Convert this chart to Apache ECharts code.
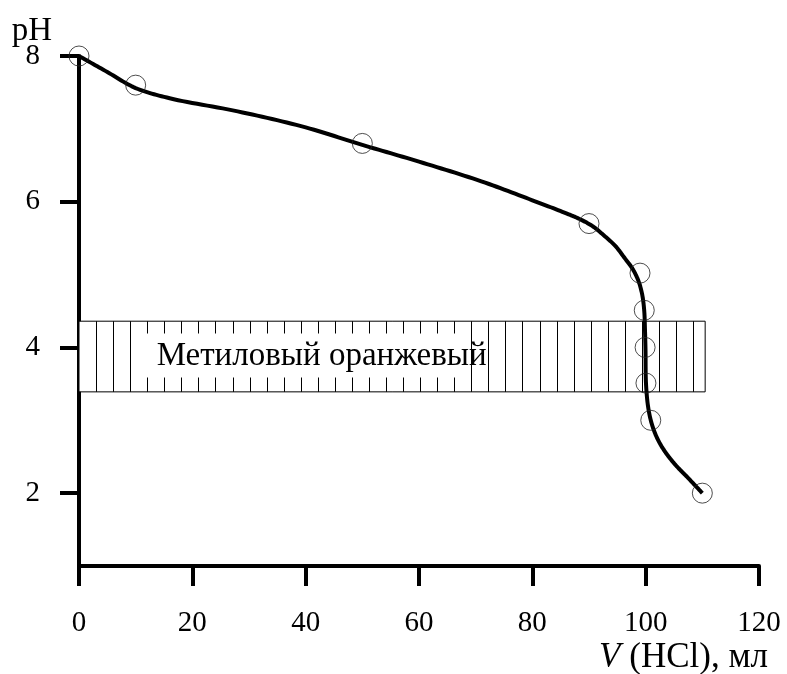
<!DOCTYPE html>
<html><head><meta charset="utf-8">
<script src="https://cdn.jsdelivr.net/npm/echarts@6/dist/echarts.min.js"></script>
<style>html,body{margin:0;padding:0;background:#fff}#c{width:787px;height:674px}</style>
</head><body><div id="c"></div>
<script>
// Measured titration points: V(HCl), ml and pH
const volume = [0, 10, 50, 90, 99, 99.75, 99.9, 100.05, 100.9, 110];
const pH = [8, 7.6, 6.8, 5.7, 5.02, 4.51, 4.0, 3.51, 3.0, 2.0];
// Smooth titration curve
const curveVolume = [0, 5, 10, 16, 28, 40, 50, 60, 71, 80, 86, 88.41, 90.71, 92.74, 94.68, 96.26, 97.68, 98.74, 99.40, 99.74, 99.88, 99.97, 100.06, 100.46, 101.12, 102.18, 103.59, 105.35, 107.47, 110];
const curvePH = [8.0, 7.78, 7.56, 7.42, 7.24, 7.02, 6.78, 6.55, 6.28, 6.02, 5.84, 5.76, 5.66, 5.53, 5.39, 5.23, 5.08, 4.91, 4.72, 4.51, 4.24, 3.97, 3.50, 3.17, 2.94, 2.73, 2.55, 2.38, 2.21, 2.0];
// Indicator transition band (methyl orange)
const bandVolume = [0, 110.5];
const bandPH = [3.39, 4.36];
const bandLabel = 'Метиловый оранжевый';
const bandLabelVolume = 13.7;
// Axis ticks and titles
const xTicks = [0, 20, 40, 60, 80, 100, 120];
const yTicks = [2, 4, 6, 8];
const yTitle = 'pH';
const xTitleItalic = 'V';
const xTitleRest = ' (HCl), мл';

const FONT = '"Liberation Serif", "DejaVu Serif", serif';
const hatchStep = 3.01;

// centripetal Catmull-Rom through pixel points
function splinePoints(pts, n) {
  const out = [];
  const len = pts.length;
  const tj = (a, b) => Math.max(Math.pow(Math.hypot(b[0] - a[0], b[1] - a[1]), 0.5), 1e-4);
  const lerp = (a, b, wa, wb) => [a[0] * wa + b[0] * wb, a[1] * wa + b[1] * wb];
  for (let i = 0; i < len - 1; i++) {
    const P1 = pts[i], P2 = pts[i + 1];
    const P0 = i > 0 ? pts[i - 1] : [2 * P1[0] - P2[0], 2 * P1[1] - P2[1]];
    const P3 = i < len - 2 ? pts[i + 2] : [2 * P2[0] - P1[0], 2 * P2[1] - P1[1]];
    const t0 = 0, t1 = t0 + tj(P0, P1), t2 = t1 + tj(P1, P2), t3 = t2 + tj(P2, P3);
    for (let k = (i === 0 ? 0 : 1); k <= n; k++) {
      const t = t1 + (t2 - t1) * k / n;
      const A1 = lerp(P0, P1, (t1 - t) / (t1 - t0), (t - t0) / (t1 - t0));
      const A2 = lerp(P1, P2, (t2 - t) / (t2 - t1), (t - t1) / (t2 - t1));
      const A3 = lerp(P2, P3, (t3 - t) / (t3 - t2), (t - t2) / (t3 - t2));
      const B1 = lerp(A1, A2, (t2 - t) / (t2 - t0), (t - t0) / (t2 - t0));
      const B2 = lerp(A2, A3, (t3 - t) / (t3 - t1), (t - t1) / (t3 - t1));
      out.push(lerp(B1, B2, (t2 - t) / (t2 - t1), (t - t1) / (t2 - t1)));
    }
  }
  return out;
}

const chart = echarts.init(document.getElementById('c'), null, {renderer: 'canvas'});
chart.setOption({
  animation: false,
  backgroundColor: '#fff',
  grid: {left: 79, right: 28, top: 56, bottom: 108, containLabel: false, outerBoundsMode: 'none'},
  graphic: [
    {
      type: 'text', right: 19, top: 640, z: 10,
      style: {
        text: '{i|' + xTitleItalic + '}{n|' + xTitleRest + '}',
        rich: {
          i: {font: 'italic 35px ' + FONT, fill: '#000'},
          n: {font: '35px ' + FONT, fill: '#000'}
        }
      }
    }
  ],
  xAxis: {
    type: 'value', min: xTicks[0], max: xTicks[xTicks.length - 1], interval: 20,
    axisLine: {show: true, onZero: false, lineStyle: {color: '#000', width: 4}},
    axisTick: {show: true, inside: false, length: 20, lineStyle: {color: '#000', width: 4}},
    axisLabel: {fontFamily: FONT, fontSize: 29, color: '#000', margin: 43},
    splitLine: {show: false}
  },
  yAxis: {
    type: 'value', min: 1, max: 8,
    name: yTitle, nameLocation: 'end', nameGap: 8, nameMoveOverlap: false,
    nameTextStyle: {fontFamily: FONT, fontSize: 33, color: '#000', align: 'right', verticalAlign: 'bottom', padding: [0, 27, 0, 0]},
    axisLine: {show: true, onZero: false, lineStyle: {color: '#000', width: 4}},
    axisTick: {show: true, inside: false, length: 19, customValues: yTicks, lineStyle: {color: '#000', width: 4}},
    axisLabel: {fontFamily: FONT, fontSize: 29, color: '#000', margin: 39, customValues: yTicks},
    splitLine: {show: false}
  },
  series: [
    {
      type: 'custom', silent: true, z: 1, clip: false,
      data: [[bandVolume[0], bandPH[0]]],
      renderItem: function (params, api) {
        const p0 = api.coord([bandVolume[0], bandPH[1]]);
        const p1 = api.coord([bandVolume[1], bandPH[0]]);
        const children = [{type: 'rect', shape: {x: p0[0], y: p0[1], width: p1[0] - p0[0], height: p1[1] - p0[1]},
          style: {fill: '#fff', stroke: '#000', lineWidth: 1}}];
        const step = api.size([hatchStep, 0])[0];
        for (let x = p0[0] + step; x < p1[0] - 2; x += step) {
          const xx = Math.round(x) + 0.5;
          children.push({type: 'line', shape: {x1: xx, y1: p0[1], x2: xx, y2: p1[1]}, style: {stroke: '#000', lineWidth: 1}});
        }
        const tx = api.coord([bandLabelVolume, 0])[0];
        const cy = (p0[1] + p1[1]) / 2;
        children.push({type: 'rect', shape: {x: tx - 16, y: cy - 23, width: 325, height: 44}, style: {fill: '#fff'}});
        children.push({type: 'text', style: {text: bandLabel, x: tx, y: cy, verticalAlign: 'middle', align: 'left',
          font: '33px ' + FONT, fill: '#000'}});
        return {type: 'group', children: children};
      }
    },
    {
      type: 'custom', silent: true, z: 3, clip: false,
      data: [[curveVolume[0], curvePH[0]]],
      renderItem: function (params, api) {
        const px = curveVolume.map((v, i) => api.coord([v, curvePH[i]]));
        return {type: 'polyline', shape: {points: splinePoints(px, 14)},
          style: {stroke: '#000', lineWidth: 4, fill: null, lineJoin: 'round'}};
      }
    },
    {
      type: 'scatter', z: 4, data: volume.map((v, i) => [v, pH[i]]),
      symbol: 'circle', symbolSize: 20,
      itemStyle: {color: 'rgba(0,0,0,0)', borderColor: '#222', borderWidth: 1}
    }
  ]
});
</script></body></html>
